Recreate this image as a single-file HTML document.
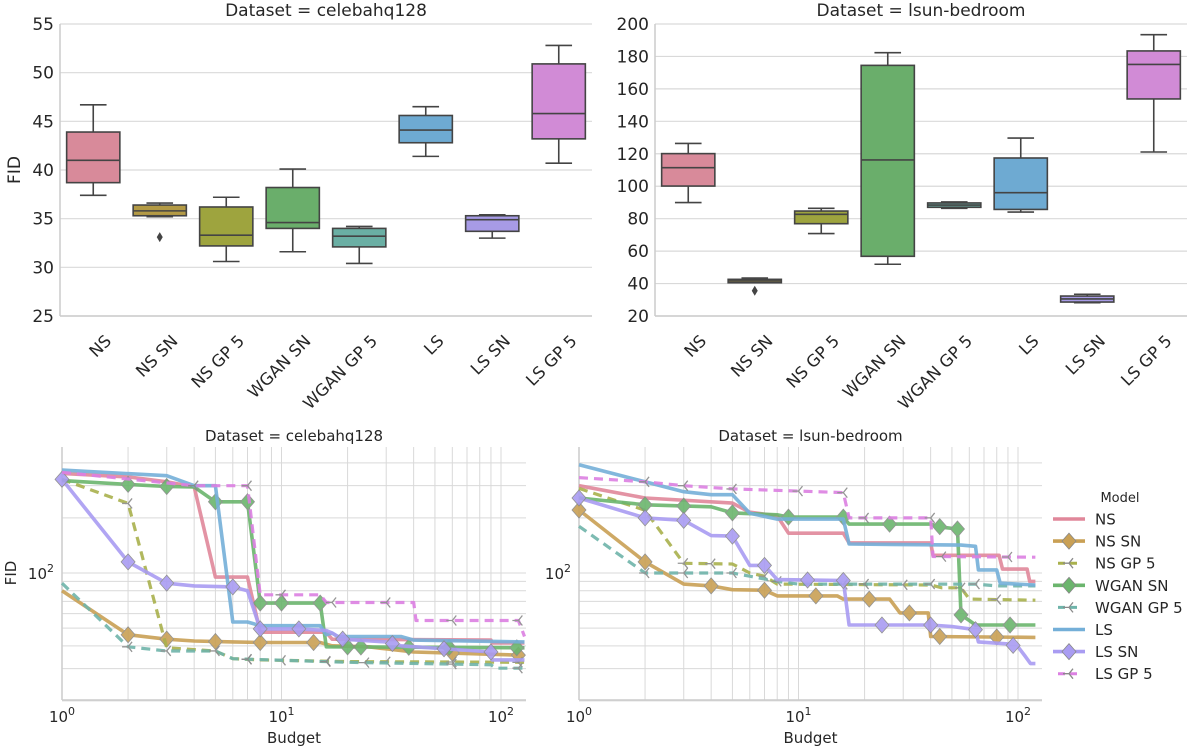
<!DOCTYPE html>
<html><head><meta charset="utf-8">
<style>
html,body{margin:0;padding:0;background:#fff;}
svg{display:block;font-family:"DejaVu Sans","Liberation Sans",sans-serif;}
</style></head>
<body>
<svg id="fig" width="1187" height="752" viewBox="0 0 1187 752" xmlns="http://www.w3.org/2000/svg"></svg>
<script>
// ---------- DATA ----------
const categories = ["NS","NS SN","NS GP 5","WGAN SN","WGAN GP 5","LS","LS SN","LS GP 5"];
const colors = ["#d88a9a","#b39a45","#9ea43e","#6aae6b","#6aafa4","#6eaad2","#a79be6","#d18bd6"];
const lineColors = ["#e0879a","#c9a055","#a9b14d","#6bb56d","#6fb4aa","#74afd8","#a99cf2","#dc80e2"];
// boxplot stats [whiskerLow, Q1, median, Q3, whiskerHigh]
const celebaBoxes = [[37.4,38.7,41.0,43.9,46.7],[35.2,35.3,35.8,36.4,36.6],[30.6,32.2,33.3,36.2,37.2],[31.6,34.0,34.6,38.2,40.1],[30.4,32.1,33.2,34.0,34.2],[41.4,42.8,44.1,45.6,46.5],[33.0,33.7,34.9,35.3,35.4],[40.7,43.2,45.8,50.9,52.8]];
const celebaOutliers = [[1,33.1]];
const lsunBoxes = [[89.9,100.1,111.4,120.1,126.4],[40.5,40.5,41.6,42.6,43.4],[70.8,76.9,82.7,84.7,86.4],[51.9,56.8,116.2,174.5,182.3],[86.4,87.0,88.4,89.7,90.3],[84.1,85.7,96.0,117.4,129.7],[28.2,28.6,30.5,32.3,33.4],[121.1,153.8,175.1,183.4,193.4]];
const lsunOutliers = [[1,35.6]];
const celebaTicks = [25,30,35,40,45,50,55];
const lsunTicks = [20,40,60,80,100,120,140,160,180,200];

// budget curves: [budget, FID]
const celebaNS = [[1,350],[2,335],[3,315],[4,295],[5,95],[7,95],[8,47.5],[16,47.5],[17,43.5],[90,43],[91,41.5],[128,41.5]];
const celebaNSSN = [[1,80],[2,46],[3,43.5],[4,42.5],[6,42],[8,41.7],[15,41.7],[17,40],[25,39.5],[30,38.5],[40,37],[128,35.5]];
const celebaNSGP = [[1,325],[2,240],[3,39],[5,37.5],[6,34],[8,33.5],[20,32.8],[128,32.5]];
const celebaWSN = [[1,320],[2,305],[3,297],[4,295],[5,245],[7,245],[8,68.5],[15,68.5],[16,39.5],[128,39]];
const celebaWGP = [[1,88],[2,39.5],[3,37.5],[5,37.5],[6,34],[20,32.5],[90,31.5],[95,30.2],[128,30.2]];
const celebaLS = [[1,365],[3,340],[4,300],[5,300],[6,54],[7,54],[8,51.5],[15,51.5],[16,46],[17,47],[18,45],[35,45],[40,43],[128,42]];
const celebaLSSN = [[1,325],[2,115],[3,88],[4,85],[6,84],[7,80],[8,49.5],[12,49.5],[16,48.5],[17,47],[19,43.5],[30,42],[35,40],[90,37],[91,33.5],[128,33.5]];
const celebaLSGP = [[1,355],[4,300],[7,300],[8,76],[15,76],[16,69],[40,69],[41,55],[120,55],[128,45]];

const lsunNS = [[1,300],[2,257],[5,241],[6,215],[8,205],[9,165],[16,165],[17,146],[40,146],[41,125],[82,125],[85,105],[110,105],[113,90],[120,90]];
const lsunNSSN = [[1,221],[2,115],[3,87],[4,85],[5,81],[7,80.5],[8,75],[15,75],[16,72],[26,72],[29,60.5],[39,60.5],[40,45],[120,44.5]];
const lsunNSGP = [[1,290],[2,220],[3,113],[5,112],[6,100],[7,96],[8,87],[40,86],[45,83],[55,83],[60,72],[120,71]];
const lsunWSN = [[1,257],[2,236],[4,230],[5,213],[8,208],[9,202],[16,202],[17,185],[40,185],[45,178],[53,174],[55,59],[60,55],[64,52],[120,52]];
const lsunWGP = [[1,180],[2,100],[5,100],[6,96],[8,90],[10,87],[64,87],[80,85],[120,85]];
const lsunLS = [[1,390],[2,315],[3,278],[4,268],[5,268],[6,212],[8,197],[16,197],[17,144],[55,142],[64,140],[66,104],[80,104],[83,88],[120,86]];
const lsunLSSN = [[1,257],[2,200],[3,194],[4,160],[5,159],[6,110],[7,110],[8,92],[16,91],[17,52],[40,52],[50,51],[64,49],[66,42],[90,41],[100,39.5],[108,35],[114,32],[120,32]];
const lsunLSGP = [[1,332],[2,315],[3,300],[5,288],[16,275],[17,200],[40,200],[41,123],[120,122]];

// marker budgets
const celebaMarks = [[],[2,3,5,8,14,60,120],[2,7,10,16,30,60,120],[2,3,5,7,8,10,15,20,23,38,58,118],[2,3,5,7,16,24,60,120],[],[1,2,3,6,8,12,19,32,55,90],[4,7,10,17,30,60,120]];
const lsunMarks = [[],[1,2,4,7,12,21,32,44,80],[3,4,7,16,30,55,80],[2,3,5,9,16,26,44,53,55,92],[2,3,5,8,20,40,64],[],[1,2,3,5,7,11,16,24,40,64,95],[2,3,5,10,16,20,40,45,90]];
const dashedSeries = [false,false,true,false,true,false,false,true];
const markerType = [null,"d","t","d","t",null,"d","t"];

const logTicksLabel = ["0","1","2"];

// ---------- HELPERS ----------
const svg = document.getElementById('fig');
const NS_ = "http://www.w3.org/2000/svg";
function mk(tag, attrs, parent){
  const e = document.createElementNS(NS_, tag);
  for (const k in attrs) e.setAttribute(k, attrs[k]);
  (parent||svg).appendChild(e);
  return e;
}
const TXT = "#262626", GRID = "#d9d9d9", AX = "#cccccc";

// ---------- BOX PLOTS ----------
function boxPanel(x0, x1, yTop, yBot, vmin, vmax, ticks, boxes, outliers, title, showYLabel, name){
  const g = mk('g', {});
  
  
  const ys = v => yBot - (v - vmin) / (vmax - vmin) * (yBot - yTop);
  const bw = (x1 - x0) / categories.length;
  const xc = i => x0 + bw * (i + 0.5);
  ticks.forEach(t => {
    const l = mk('line', {x1:x0, x2:x1, y1:ys(t), y2:ys(t), stroke:GRID, 'stroke-width':1.2}, g);
    
    
    const tx = mk('text', {x:x0-6, y:ys(t)+6, 'text-anchor':'end', 'font-size':17, fill:TXT}, g);
    
    
    tx.textContent = t;
  });
  mk('line', {x1:x0, x2:x0, y1:yTop, y2:yBot, stroke:AX, 'stroke-width':1.5}, g);
  mk('line', {x1:x0, x2:x1, y1:yBot, y2:yBot, stroke:AX, 'stroke-width':1.5}, g);
  boxes.forEach((b, i) => {
    const c = xc(i), w = bw * 0.8;
    const bg = mk('g', {}, g);
    
    
    const ln = {stroke:'#444', 'stroke-width':1.6};
    mk('line', Object.assign({x1:c, x2:c, y1:ys(b[0]), y2:ys(b[1])}, ln), bg);
    mk('line', Object.assign({x1:c, x2:c, y1:ys(b[3]), y2:ys(b[4])}, ln), bg);
    mk('line', Object.assign({x1:c-w/4, x2:c+w/4, y1:ys(b[0]), y2:ys(b[0])}, ln), bg);
    mk('line', Object.assign({x1:c-w/4, x2:c+w/4, y1:ys(b[4]), y2:ys(b[4])}, ln), bg);
    mk('rect', {x:c-w/2, y:ys(b[3]), width:w, height:Math.max(ys(b[1])-ys(b[3]),1), fill:colors[i], stroke:'#444', 'stroke-width':1.6}, bg);
    mk('line', Object.assign({x1:c-w/2, x2:c+w/2, y1:ys(b[2]), y2:ys(b[2])}, ln), bg);
    const lx = c + 19, ly = ys(vmin) + 26;
    const lab = mk('text', {x:lx, y:ly, 'text-anchor':'end', 'font-size':16.5, fill:TXT, transform:`rotate(-45 ${lx} ${ly})`}, g);
    
    
    lab.textContent = categories[i];
  });
  outliers.forEach(o => {
    const c = xc(o[0]), y = ys(o[1]);
    const p = mk('path', {d:`M${c} ${y-5} L${c+3} ${y} L${c} ${y+5} L${c-3} ${y} Z`, fill:'#444'}, g);
    
    
  });
  const t = mk('text', {x:(x0+x1)/2, y:yTop-8, 'text-anchor':'middle', 'font-size':17, fill:TXT}, g);
  
  
  t.textContent = title;
  if (showYLabel){
    const yl = mk('text', {x:20, y:(yTop+yBot)/2, 'text-anchor':'middle', 'font-size':17, fill:TXT, transform:`rotate(-90 20 ${(yTop+yBot)/2})`}, g);
    
    
    yl.textContent = 'FID';
  }
}
boxPanel(60, 592, 24, 316, 25, 55, celebaTicks, celebaBoxes, celebaOutliers, "Dataset = celebahq128", true, 'box-panel-celebahq128');
boxPanel(655, 1187, 24, 316, 20, 200, lsunTicks, lsunBoxes, lsunOutliers, "Dataset = lsun-bedroom", false, 'box-panel-lsun-bedroom');

// ---------- LINE PANELS ----------
const Y0 = 447, Y1 = 700, Y100 = 573, PXDEC = 183;
function ysL(v){ return Y100 - (Math.log10(v) - 2) * PXDEC; }
function drawMarker(g, type, x, y, col){
  if (type === 'd'){
    const m = mk('path', {d:`M${x} ${y-8} L${x+7} ${y} L${x} ${y+8} L${x-7} ${y} Z`, fill:col, stroke:'#888', 'stroke-width':0.8}, g);
    
    
  } else if (type === 't'){
    const m = mk('path', {d:`M${x} ${y} L${x-6} ${y} M${x} ${y} L${x+4} ${y-5} M${x} ${y} L${x+4} ${y+5}`, stroke:col, 'stroke-width':1.3, fill:'none'}, g);
    
    
  }
}
function interp(series, b){
  for (let i = 0; i < series.length - 1; i++){
    const a = series[i], c = series[i+1];
    if (b >= a[0] && b <= c[0]){
      const t = (Math.log10(b) - Math.log10(a[0])) / (Math.log10(c[0]) - Math.log10(a[0]) || 1);
      return Math.pow(10, Math.log10(a[1]) + t * (Math.log10(c[1]) - Math.log10(a[1])));
    }
  }
  return series[series.length-1][1];
}
function linePanel(x0, xEnd, seriesList, marks, title, showYLabel, name){
  const g = mk('g', {});
  
  
  const DEC = 219.5;
  const xs = b => x0 + Math.log10(b) * DEC;
  const gx = [];
  for (let d = 0; d < 3; d++) for (let k = 1; k < 10; k++){ const v = k * Math.pow(10, d); if (xs(v) <= xEnd) gx.push(v); }
  gx.forEach(v => {
    const l = mk('line', {x1:xs(v), x2:xs(v), y1:Y0, y2:Y1, stroke:GRID, 'stroke-width':1}, g);
    
    
  });
  const gy = [20,30,40,50,60,70,80,90,100,200,300,400];
  gy.forEach(v => {
    const l = mk('line', {x1:x0, x2:xEnd, y1:ysL(v), y2:ysL(v), stroke:GRID, 'stroke-width':1}, g);
    
    
  });
  mk('line', {x1:x0, x2:x0, y1:Y0, y2:Y1, stroke:AX, 'stroke-width':1.5}, g);
  mk('line', {x1:x0, x2:xEnd, y1:Y1, y2:Y1, stroke:AX, 'stroke-width':1.5}, g);
  logTicksLabel.forEach((e, i) => {
    const t = mk('text', {x:xs(Math.pow(10, i)), y:Y1+22, 'text-anchor':'middle', 'font-size':15, fill:TXT}, g);
    
    
    t.innerHTML = `10<tspan dy="-7" font-size="11">${e}</tspan>`;
  });
  const yt = mk('text', {x:x0-8, y:Y100+6, 'text-anchor':'end', 'font-size':15, fill:TXT}, g);
  
  
  yt.innerHTML = `10<tspan dy="-7" font-size="11">2</tspan>`;
  const xl = mk('text', {x:(x0+xEnd)/2, y:743, 'text-anchor':'middle', 'font-size':15, fill:TXT}, g);
  
  
  xl.textContent = 'Budget';
  const tt = mk('text', {x:(x0+xEnd)/2, y:441, 'text-anchor':'middle', 'font-size':15, fill:TXT}, g);
  
  
  tt.textContent = title;
  if (showYLabel){
    const yl = mk('text', {x:16, y:Y100, 'text-anchor':'middle', 'font-size':15, fill:TXT, transform:`rotate(-90 16 ${Y100})`}, g);
    
    
    yl.textContent = 'FID';
  }
  seriesList.forEach((s, i) => {
    const sg = mk('g', {opacity:0.9}, g);
    
    
    const d = s.map((p, j) => (j ? 'L' : 'M') + xs(p[0]).toFixed(1) + ' ' + ysL(p[1]).toFixed(1)).join(' ');
    const attrs = {d:d, fill:'none', stroke:lineColors[i], 'stroke-width':dashedSeries[i] ? 3.2 : 3.6, 'stroke-linejoin':'round'};
    if (dashedSeries[i]) attrs['stroke-dasharray'] = '9 6';
    mk('path', attrs, sg);
    marks[i].forEach(b => drawMarker(sg, markerType[i], xs(b), ysL(interp(s, b)), dashedSeries[i] ? '#8a8a8a' : lineColors[i]));
  });
}
linePanel(62, 526, [celebaNS,celebaNSSN,celebaNSGP,celebaWSN,celebaWGP,celebaLS,celebaLSSN,celebaLSGP], celebaMarks, "Dataset = celebahq128", true, 'line-panel-celebahq128');
linePanel(579, 1042, [lsunNS,lsunNSSN,lsunNSGP,lsunWSN,lsunWGP,lsunLS,lsunLSSN,lsunLSGP], lsunMarks, "Dataset = lsun-bedroom", false, 'line-panel-lsun-bedroom');

// ---------- LEGEND ----------
const lg = mk('g', {});


const lt = mk('text', {x:1120, y:502, 'text-anchor':'middle', 'font-size':13, fill:TXT}, lg);


lt.textContent = 'Model';
categories.forEach((c, i) => {
  const y = 519 + i * 22.1;
  const eg = mk('g', {}, lg);
  
  
  const a = {x1:1053, x2:1085, y1:y, y2:y, stroke:lineColors[i], 'stroke-width':dashedSeries[i] ? 3 : 3.6};
  if (dashedSeries[i]){ a.x1 = 1058; a.x2 = 1082; a['stroke-dasharray'] = '7 5'; }
  mk('line', a, eg);
  if (markerType[i]) drawMarker(eg, markerType[i], 1069, y, dashedSeries[i] ? '#8a8a8a' : lineColors[i]);
  const t = mk('text', {x:1095, y:y+5.5, 'font-size':15, fill:TXT}, eg);
  t.textContent = c;
});
</script>
</body></html>
